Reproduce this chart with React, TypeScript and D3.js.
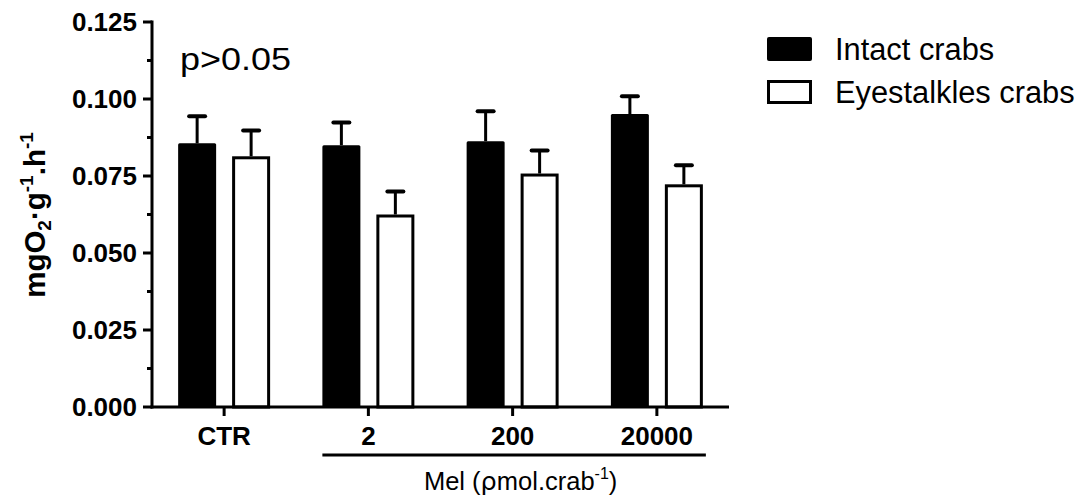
import React from 'react';
import * as d3 from 'd3';

// values (mg O2 / g / h)
const categories = ['CTR', '2', '200', '20000'];
const series = ['Intact crabs', 'Eyestalkles crabs'];
const intactMean = [0.0856, 0.085, 0.0863, 0.0951];
const intactSem = [0.0088, 0.0074, 0.0097, 0.0058];
const eyestalkMean = [0.0814, 0.0625, 0.0758, 0.0723];
const eyestalkSem = [0.0084, 0.0075, 0.0075, 0.0062];
const yTicks = [0, 0.025, 0.05, 0.075, 0.1, 0.125];

const W = 1084;
const H = 500;
const FONT = "Arial, 'Liberation Sans', sans-serif";

const App = () => {
  const y = d3.scaleLinear().domain([0, 0.125]).range([407, 22]);
  const x0 = d3.scaleBand().domain(categories).range([152, 729]);
  const x1 = d3.scaleBand()
    .domain(series)
    .range([0, x0.bandwidth()])
    .paddingInner(0.296)
    .paddingOuter(0.484);

  const fmt = d3.format('.3f');
  const minor = d3.range(yTicks.length - 1).map(i => (yTicks[i] + yTicks[i + 1]) / 2);

  const means = [intactMean, eyestalkMean];
  const sems = [intactSem, eyestalkSem];

  const bars = categories.flatMap((c, i) =>
    series.map((s, k) => ({ cat: c, s, k, mean: means[k][i], sem: sems[k][i] }))
  );

  const bw = x1.bandwidth();
  const bracketStart = x0('2') + x1(series[0]);
  const bracketEnd = x0('20000') + x1(series[1]) + bw;

  return (
    <svg width={W} height={H} style={{ position: 'absolute', left: 0, top: 0, background: '#fff' }}
      fontFamily={FONT}>
      {/* error bars (drawn first, bar tops cover the base) */}
      {bars.map((d, i) => {
        const cx = x0(d.cat) + x1(d.s) + bw / 2;
        return (
          <g key={'e' + i} stroke="#000">
            <line x1={cx} x2={cx} y1={y(d.mean)} y2={y(d.mean + d.sem)} strokeWidth={3} />
            <line x1={cx - 8} x2={cx + 8} y1={y(d.mean + d.sem)} y2={y(d.mean + d.sem)}
              strokeWidth={4} strokeLinecap="round" />
          </g>
        );
      })}
      {/* bars */}
      {bars.map((d, i) => {
        const bx = x0(d.cat) + x1(d.s);
        return d.k === 0 ? (
          <rect key={'b' + i} x={bx} y={y(d.mean)} width={bw} height={y(0) - y(d.mean)}
            fill="#000" rx={1.5} />
        ) : (
          <rect key={'b' + i} x={bx + 1.5} y={y(d.mean) + 1.5} width={bw - 3}
            height={y(0) - y(d.mean) - 1.5} fill="#fff" stroke="#000" strokeWidth={3} />
        );
      })}

      {/* y axis */}
      <line x1={152} x2={152} y1={y(0.125) - 1.5} y2={y(0) + 1.5} stroke="#000" strokeWidth={3} />
      {yTicks.map(t => (
        <g key={'yt' + t}>
          <line x1={143} x2={152} y1={y(t)} y2={y(t)} stroke="#000" strokeWidth={3} />
          <text x={137} y={y(t)} dy="0.36em" textAnchor="end" fontSize={26} fontWeight="bold">
            {fmt(t)}
          </text>
        </g>
      ))}
      {minor.map(t => (
        <line key={'ym' + t} x1={147} x2={152} y1={y(t)} y2={y(t)} stroke="#000" strokeWidth={3} />
      ))}

      {/* x axis */}
      <line x1={150.5} x2={729} y1={y(0)} y2={y(0)} stroke="#000" strokeWidth={3} />
      {categories.map(c => (
        <g key={'xt' + c}>
          <line x1={x0(c) + x0.bandwidth() / 2} x2={x0(c) + x0.bandwidth() / 2}
            y1={y(0)} y2={y(0) + 9} stroke="#000" strokeWidth={3} />
          <text x={x0(c) + x0.bandwidth() / 2} y={445} textAnchor="middle" fontSize={26}
            fontWeight="bold">{c}</text>
        </g>
      ))}

      {/* treatment bracket */}
      <line x1={bracketStart} x2={bracketEnd + 3} y1={455} y2={455} stroke="#000" strokeWidth={3} />
      <text x={(bracketStart + bracketEnd) / 2 + 8} y={490} textAnchor="middle" fontSize={25.5}>
        Mel (<tspan fontFamily="'DejaVu Sans', sans-serif">ρ</tspan>mol.crab
        <tspan fontSize={16} dy={-11}>-1</tspan>
        <tspan dy={11}>)</tspan>
      </text>

      {/* y label */}
      <text transform="translate(45,215) rotate(-90)" textAnchor="middle" fontSize={29.5}
        fontWeight="bold">
        mgO<tspan fontSize={19} dy={6}>2</tspan>
        <tspan dy={-6}>·g</tspan>
        <tspan fontSize={19} dy={-12}>-1</tspan>
        <tspan dy={12}>.h</tspan>
        <tspan fontSize={19} dy={-12}>-1</tspan>
      </text>

      <text x={180} y={70} fontSize={32} textLength={111} lengthAdjust="spacingAndGlyphs">p&gt;0.05</text>

      {/* legend */}
      {series.map((s, k) => (
        <g key={'lg' + s} transform={`translate(0, ${k * 43})`}>
          {k === 0 ? (
            <rect x={767} y={37} width={45} height={24} fill="#000" rx={2} />
          ) : (
            <rect x={768.5} y={38.5} width={42} height={21} fill="#fff" stroke="#000" strokeWidth={3} />
          )}
          <text x={835} y={60} fontSize={30.8}>{s}</text>
        </g>
      ))}
    </svg>
  );
};

export default App;
